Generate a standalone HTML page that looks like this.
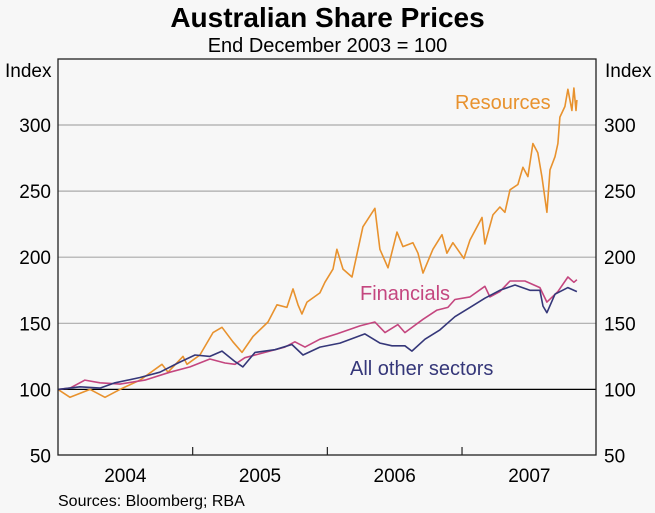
<!DOCTYPE html>
<html><head><meta charset="utf-8"><style>
html,body{margin:0;padding:0;background:#f7f7f7;}
svg{display:block;font-family:"Liberation Sans",Arial,sans-serif;}
</style></head><body>
<svg id="chart" width="655" height="513" viewBox="0 0 655 513">
<rect x="0" y="0" width="655" height="513" fill="#f7f7f7"/>
<text x="327.5" y="27" text-anchor="middle" font-size="28" font-weight="bold" fill="#000">Australian Share Prices</text>
<text x="327.5" y="52" text-anchor="middle" font-size="20" fill="#000">End December 2003 = 100</text>
<text x="5" y="77" font-size="19" fill="#000">Index</text>
<text x="605" y="77" font-size="19" fill="#000">Index</text>
<g id="grid"></g>
<g id="series"></g>
<rect x="58" y="59" width="538" height="396" fill="none" stroke="#222" stroke-width="1.3"/>
<g id="xaxis"></g>
<text x="455" y="109" font-size="20" fill="#e8922e">Resources</text>
<text x="360" y="300" font-size="20" fill="#c4467f">Financials</text>
<text x="350" y="375" font-size="20" fill="#353779">All other sectors</text>
<text x="58" y="506" font-size="16" fill="#000">Sources: Bloomberg; RBA</text>
</svg>
<script>
const yTicks=[50,100,150,200,250,300];
const years=[2004,2005,2006,2007];
const resDates=[2004,2004.089,2004.238,2004.349,2004.46,2004.609,2004.772,2004.817,2004.928,2004.958,2005.054,2005.151,2005.218,2005.299,2005.366,2005.448,2005.559,2005.626,2005.7,2005.745,2005.782,2005.811,2005.849,2005.945,2005.982,2006.042,2006.071,2006.116,2006.183,2006.264,2006.353,2006.39,2006.45,2006.517,2006.561,2006.635,2006.673,2006.71,2006.784,2006.851,2006.888,2006.932,2007.014,2007.059,2007.148,2007.17,2007.229,2007.281,2007.318,2007.356,2007.415,2007.452,2007.489,2007.526,2007.563,2007.593,2007.63,2007.653,2007.69,2007.712,2007.727,2007.764,2007.786,2007.816,2007.831,2007.846,2007.853];
const resValues=[100,94,100,94,100,107,119,113,125,119,126,143,147,136,128,140,151,164,162,176,164,157,166,173,181,191,206,191,185,223,237,206,192,219,208,211,203,188,206,217,203,211,199,213,230,210,232,238,234,251,255,268,261,286,279,261,234,266,276,286,306,314,327,311,328,311,319];
const finDates=[2004,2004.089,2004.2,2004.312,2004.46,2004.646,2004.831,2004.98,2005.128,2005.24,2005.314,2005.388,2005.537,2005.685,2005.759,2005.834,2005.945,2006.071,2006.242,2006.353,2006.428,2006.524,2006.576,2006.71,2006.814,2006.895,2006.947,2007.059,2007.17,2007.207,2007.281,2007.356,2007.467,2007.578,2007.63,2007.712,2007.786,2007.831,2007.853];
const finValues=[100,101,107,105,104,107,113,117,123,120,119,124,128,132,136,132,138,142,148,151,143,149,143,153,160,162,168,170,178,170,174,182,182,177,166,174,185,181,183];
const othDates=[2004,2004.163,2004.312,2004.423,2004.609,2004.757,2004.891,2005.017,2005.128,2005.218,2005.314,2005.373,2005.463,2005.611,2005.737,2005.819,2005.945,2006.094,2006.279,2006.39,2006.48,2006.576,2006.628,2006.725,2006.836,2006.947,2007.059,2007.17,2007.281,2007.393,2007.504,2007.578,2007.601,2007.63,2007.69,2007.786,2007.853];
const othValues=[100,102,101,105,109,113,120,126,125,129,121,117,128,130,134,126,132,135,142,135,133,133,129,138,145,155,162,169,175,179,175,175,163,158,172,177,174];

const NS='http://www.w3.org/2000/svg';
const X0=58,X1=596.7,Y0=455.5,Y1=125;
function xs(t){return X0+(t-2004)/4*(X1-X0);}
function ys(v){return Y0+(v-50)/250*(Y1-Y0);}
const grid=document.getElementById('grid');
const svg=document.getElementById('chart');
yTicks.forEach(v=>{
  const y=ys(v);
  if(v>50){
    const l=document.createElementNS(NS,'line');
    l.setAttribute('x1',58);l.setAttribute('x2',596);l.setAttribute('y1',y);l.setAttribute('y2',y);
    l.setAttribute('stroke',v===100?'#000':'#aaaaaa');l.setAttribute('stroke-width',v===100?1.3:1.2);
    
    
    grid.appendChild(l);
  }
  const a=document.createElementNS(NS,'text');
  a.setAttribute('x',51);a.setAttribute('y',y+7);a.setAttribute('text-anchor','end');a.setAttribute('font-size','19');
  a.textContent=v;
  
  
  svg.appendChild(a);
  const b=document.createElementNS(NS,'text');
  b.setAttribute('x',604);b.setAttribute('y',y+7);b.setAttribute('font-size','19');
  b.textContent=v;
  
  
  svg.appendChild(b);
});
const xa=document.getElementById('xaxis');
years.forEach(yr=>{
  if(yr>2004){
    const t=document.createElementNS(NS,'line');
    t.setAttribute('x1',xs(yr));t.setAttribute('x2',xs(yr));t.setAttribute('y1',455);t.setAttribute('y2',447);
    t.setAttribute('stroke','#222');t.setAttribute('stroke-width',1.2);
    
    
    xa.appendChild(t);
  }
  const lb=document.createElementNS(NS,'text');
  lb.setAttribute('x',xs(yr+0.5));lb.setAttribute('y',482);lb.setAttribute('text-anchor','middle');lb.setAttribute('font-size','19');
  lb.textContent=yr;
  
  
  xa.appendChild(lb);
});
const ser=document.getElementById('series');
function drawLine(d,v,color,name){
  const p=document.createElementNS(NS,'polyline');
  p.setAttribute('points',d.map((t,i)=>xs(t).toFixed(1)+','+ys(v[i]).toFixed(1)).join(' '));
  p.setAttribute('fill','none');p.setAttribute('stroke',color);p.setAttribute('stroke-width',1.6);p.setAttribute('stroke-linejoin','round');
  
  
  ser.appendChild(p);
}
drawLine(resDates,resValues,'#e8922e','resources-line');
drawLine(finDates,finValues,'#c4467f','financials-line');
drawLine(othDates,othValues,'#353779','other-sectors-line');
</script>
</body></html>
